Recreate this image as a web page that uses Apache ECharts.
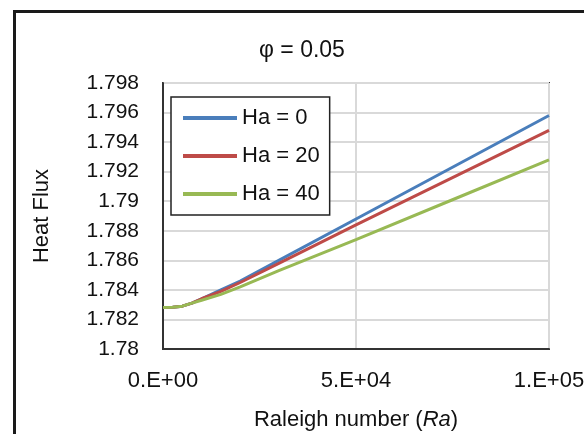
<!DOCTYPE html>
<html>
<head>
<meta charset="utf-8">
<script src="https://cdn.jsdelivr.net/npm/echarts@6/dist/echarts.min.js"></script>
<style>
  html, body { margin: 0; padding: 0; background: #fff; }
  #chart { width: 584px; height: 434px; }
</style>
</head>
<body>
<div id="chart"></div>
<script>
// Raleigh number samples
var ra = [0, 2500, 5000, 7500, 10000, 15000, 20000, 30000, 50000, 75000, 100000];
// heat flux, one list per Hartmann number
var ha0  = [1.7828, 1.78282, 1.7829, 1.7831, 1.7834, 1.7840, 1.7846, 1.7860, 1.7888, 1.7923, 1.7958];
var ha20 = [1.7828, 1.78282, 1.7829, 1.7831, 1.7834, 1.7839, 1.7845, 1.7858, 1.7884, 1.7916, 1.7948];
var ha40 = [1.7828, 1.78282, 1.7829, 1.7831, 1.7833, 1.7837, 1.7842, 1.7853, 1.7874, 1.7901, 1.7928];
var seriesNames = ['Ha = 0', 'Ha = 20', 'Ha = 40'];
var xTickLabels = ['0.E+00', '5.E+04', '1.E+05'];

var font = 'Liberation Sans, Arial, sans-serif';

function pairs(ys) {
    return ra.map(function (x, i) { return [x, ys[i]]; });
}

var option = {
    animation: false,
    textStyle: { fontFamily: font },
    title: {
        text: 'φ = 0.05',
        left: 254,
        top: 34,
        textStyle: { fontSize: 23, fontWeight: 'normal', color: '#111', fontFamily: font }
    },
    legend: {
        orient: 'vertical',
        left: 171,
        top: 97,
        padding: [10, 10, 10, 12],
        itemGap: 16,
        itemWidth: 54,
        itemHeight: 4,
        icon: 'rect',
        backgroundColor: '#fff',
        borderColor: '#222',
        borderWidth: 1.5,
        textStyle: { fontSize: 22, color: '#111', fontFamily: font },
        data: seriesNames
    },
    grid: {
        left: 163,
        right: 35,
        top: 83,
        bottom: 85,
        outerBoundsMode: 'none',
        show: true,
        borderColor: '#333',
        borderWidth: 2
    },
    xAxis: {
        type: 'value',
        min: 0,
        max: 100000,
        interval: 50000,
        name: '{a|Raleigh number (}{b|Ra}{a|)}',
        nameLocation: 'middle',
        nameGap: 60,
        nameTextStyle: {
            rich: {
                a: { fontSize: 22, color: '#111', fontFamily: font },
                b: { fontSize: 22, color: '#111', fontFamily: font, fontStyle: 'italic' }
            }
        },
        axisLine: { lineStyle: { color: '#333', width: 2 } },
        axisTick: { show: false },
        axisLabel: {
            fontSize: 22,
            color: '#111',
            margin: 21,
            formatter: function (v) { return xTickLabels[Math.round(v / 50000)]; }
        },
        splitLine: { lineStyle: { color: '#d9d9d9', width: 2 } }
    },
    yAxis: {
        type: 'value',
        min: 1.78,
        max: 1.798,
        interval: 0.002,
        name: 'Heat Flux',
        nameLocation: 'middle',
        nameGap: 110,
        nameTextStyle: { fontSize: 22, color: '#111', fontFamily: font },
        axisLine: { show: true, lineStyle: { color: '#333', width: 2 } },
        axisTick: { show: false },
        axisLabel: { fontSize: 21, color: '#111', margin: 24 },
        splitLine: { lineStyle: { color: '#d9d9d9', width: 2 } }
    },
    graphic: [{
        type: 'rect',
        silent: true,
        shape: { x: 14.5, y: 11.5, width: 620, height: 500 },
        style: { fill: 'none', stroke: '#1a1a1a', lineWidth: 3 }
    }],
    series: [
        { name: seriesNames[0], type: 'line', data: pairs(ha0), showSymbol: false, color: '#4a7ebb', lineStyle: { width: 3 } },
        { name: seriesNames[1], type: 'line', data: pairs(ha20), showSymbol: false, color: '#be4b48', lineStyle: { width: 3 } },
        { name: seriesNames[2], type: 'line', data: pairs(ha40), showSymbol: false, color: '#98b954', lineStyle: { width: 3 } }
    ]
};

var chart = echarts.init(document.getElementById('chart'));
chart.setOption(option);
</script>
</body>
</html>
